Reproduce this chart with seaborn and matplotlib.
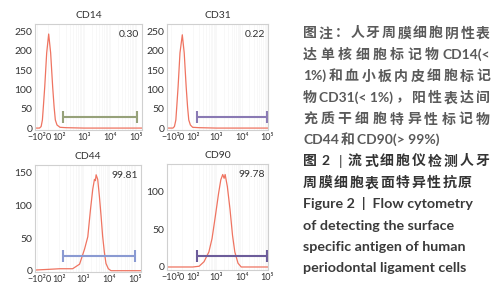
import re
import numpy as np
import pandas as pd
import seaborn as sns
import matplotlib
matplotlib.use('Agg')
import matplotlib.pyplot as plt

# DATA (fluorescence intensity -> cell count)

names = ['CD14', 'CD31', 'CD44', 'CD90']
percents = ['0.30', '0.22', '99.81', '99.78']

cd14_x = [-120, -70, -55, -44, -35, -25, -10, 5, 20, 28, 36, 48, 59, 75, 108, 200, 1000, 200000]
cd14_y = [0, 0, 4, 21, 60, 107, 195, 244, 195, 150, 107, 55, 21, 8, 2, 1, 0, 0]

cd31_x = [-150, -75, -60, -47, -38, -28, -13, 5, 20, 28, 36, 48, 59, 75, 100, 200, 1000, 120000]
cd31_y = [0, 0, 4, 21, 60, 107, 195, 242, 195, 150, 107, 55, 21, 8, 2, 1, 0, 0]

cd44_x = [-120, 0, 108, 383, 718, 1120, 1500, 1910, 2340, 2720, 2950, 3160, 3640, 4230, 4910, 5650, 6570, 7630, 9400, 11900, 200000]
cd44_y = [1, 2, 3, 3, 10, 33, 52, 94, 125, 140, 138, 147, 140, 114, 84, 53, 29, 11, 3, 0, 0]

cd90_x = [-150, 0, 100, 200, 320, 503, 674, 914, 1224, 1500, 1785, 2030, 2225, 2720, 3460, 4360, 5370, 7180, 9620, 120000]
cd90_y = [0, 0, 0, 1, 7, 20, 38, 68, 98, 116, 123, 118, 123, 107, 77, 42, 20, 5, 0, 0]

hist_x = [cd14_x, cd31_x, cd44_x, cd90_x]
hist_y = [cd14_y, cd31_y, cd44_y, cd90_y]

# gate bars: start, end, height
gate_start = [150, 165, 150, 165]
gate_end = [110000, 100000, 103000, 100000]
gate_y = [29, 30, 23, 15]
gate_colors = ['#97a27a', '#8a7ab4', '#8a9ad2', '#6c5c9a']

y_ticks = [[0, 50, 100, 150, 200, 250], [0, 50, 100, 150, 200, 250], [0, 50, 100, 150], [0, 50, 100]]
y_lims = [(-5, 270), (-5, 270), (-2, 162), (-4, 137)]
x_lims = [(-121, 174000), (-150, 110000), (-121, 174000), (-150, 110000)]

x_ticks = [-100, 0, 100, 1000, 10000, 100000]
x_ticklabels = ['−10²', '0', '10²', '10³', '10⁴', '10⁵']

body_lines = ['图注：人牙周膜细胞阴性表',
              '达单核细胞标记物 CD14(<',
              '1%) 和血小板内皮细胞标记',
              '物 CD31(< 1%)，阳性表达间',
              '充质干细胞特异性标记物',
              'CD44 和 CD90(> 99%)']
head_label = ['图', '2', '|']
head_lines = ['流式细胞仪检测人牙',
              '周膜细胞表面特异性抗原']
eng_lines = ['Figure 2  |  Flow cytometry',
             'of detecting the surface',
             'specific antigen of human',
             'periodontal ligament cells']

# PLOTTING

sns.set_style('white')
plt.rcParams['font.family'] = ['Lato', 'Noto Sans CJK SC', 'DejaVu Sans']

W, H = 504, 300
fig = plt.figure(figsize=(W / 100, H / 100), dpi=100)

# axes boxes in pixels (left, top, right, bottom)
boxes = [(35, 24, 142, 130), (167, 24, 268, 130), (35, 165, 141, 272), (167, 164, 268, 270)]
minor = [k * 10 ** n for n in (2, 3, 4) for k in range(2, 10)]

for i in range(4):
    l, t, r, b = boxes[i]
    ax = fig.add_axes([l / W, 1 - b / H, (r - l) / W, (b - t) / H])
    ax.set_xscale('asinh', linear_width=85)
    ax.set_xticks(minor, minor=True)
    ax.grid(True, which='both', axis='x', color='#f6f6f6', lw=0.5)
    df = pd.DataFrame({'x': hist_x[i], 'y': hist_y[i]})
    sns.lineplot(data=df, x='x', y='y', ax=ax, color='#ef7461', linewidth=0.9,
                 estimator=None, sort=False)
    ax.plot([gate_start[i], gate_end[i]], [gate_y[i], gate_y[i]], color=gate_colors[i], lw=1.5)
    ax.plot([gate_start[i], gate_end[i]], [gate_y[i], gate_y[i]], ls='none', marker='|',
            ms=9, mew=1.5, color=gate_colors[i])
    ax.set_xlim(x_lims[i])
    ax.set_ylim(y_lims[i])
    ax.set_xticks(x_ticks)
    ax.set_xticklabels(x_ticklabels)
    ax.set_yticks(y_ticks[i])
    ax.tick_params(length=0, labelsize=6.5, colors='#333333', pad=2)
    ax.tick_params(axis='y', labelsize=7.5)
    ax.tick_params(which='minor', length=0)
    ax.set_xlabel('')
    ax.set_ylabel('')
    for s in ax.spines.values():
        s.set_color('#d0d0d0')
        s.set_linewidth(0.8)
    ax.set_title(names[i], fontsize=7.5, color='#333333', pad=4)
    ax.text(0.97, 0.94, percents[i], transform=ax.transAxes, ha='right', va='top',
            fontsize=7.5, color='#333333')

# CAPTION ON THE RIGHT

renderer = fig.canvas.get_renderer()


def place_line(line, x0, y, x1=None, gap=2.0, **kw):
    tokens = re.findall(r'[!-~](?:[ -~]*[!-~])?|[^\x00-\x7f]', line)
    texts = [fig.text(0, 1 - y / H, tok, ha='left', va='center', **kw) for tok in tokens]
    widths = [tx.get_window_extent(renderer).width for tx in texts]
    if x1 is not None and len(texts) > 1:
        gap = (x1 - x0 - sum(widths)) / (len(texts) - 1)
    x = x0
    for tx, w in zip(texts, widths):
        tx.set_x(x / W)
        x += w + gap


body_y = [33, 54.5, 76, 97.5, 119, 140]
for k, line in enumerate(body_lines):
    right = 490 if k < 5 else None
    place_line(line, 303, body_y[k], right, gap=2.0, fontsize=10, color='#5a5a5a',
               weight='bold')

head_y = [161, 182.5]
for tok, hx in zip(head_label, [303, 321, 339]):
    fig.text(hx / W, 1 - head_y[0] / H, tok, ha='left', va='center', fontsize=10,
             color='#333333', weight='bold' if tok != '|' else 'normal')
place_line(head_lines[0], 348, head_y[0], 489, fontsize=10, color='#333333', weight='bold')
place_line(head_lines[1], 303, head_y[1], None, gap=1.6, fontsize=10, color='#333333', weight='bold')

eng_y = [204, 225.5, 247, 268]
for k, line in enumerate(eng_lines):
    fig.text(303 / W, 1 - eng_y[k] / H, line, ha='left', va='center', fontsize=10.3,
             color='#3a3a3a', weight='bold')

plt.savefig('out.png', dpi=100)
